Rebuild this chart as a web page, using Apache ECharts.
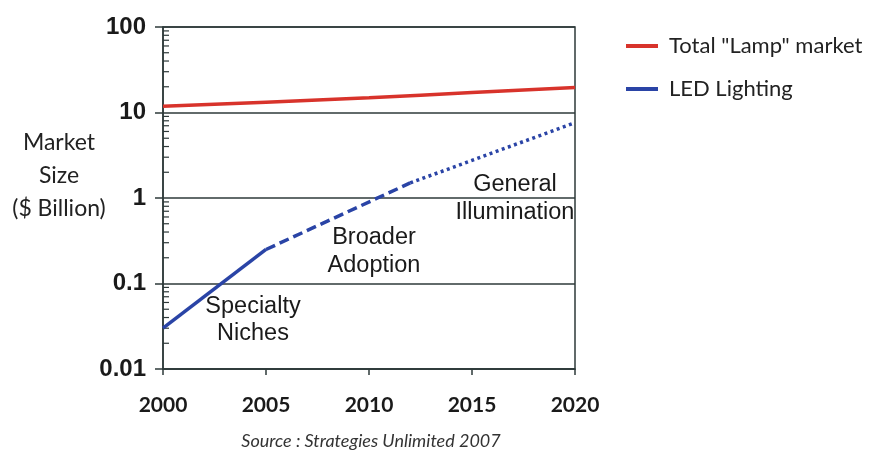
<!DOCTYPE html>
<html>
<head>
<meta charset="utf-8">
<script src="https://cdn.jsdelivr.net/npm/echarts@6/dist/echarts.min.js"></script>
<style>html,body{margin:0;padding:0;background:#fff;}#c{width:876px;height:450px;}</style>
</head>
<body>
<div id="c"></div>
<script>
// ---- data ----
var xTicks = [2000, 2005, 2010, 2015, 2020];
var yTicks = [0.01, 0.1, 1, 10, 100];
var lampYears = [2000, 2005, 2010, 2015, 2020];
var lampValues = [11.8, 13.2, 14.9, 17.1, 19.6];
var ledSolidYears = [2000, 2005];
var ledSolidValues = [0.030, 0.25];
var ledDashedYears = [2005, 2012];
var ledDashedValues = [0.25, 1.5];
var ledDottedYears = [2012, 2020];
var ledDottedValues = [1.5, 7.6];
var minorMultipliers = [2, 3, 4, 5, 6, 7, 8, 9];
var decades = [0.01, 0.1, 1, 10];
var seriesNames = ['Total "Lamp" market', 'LED Lighting'];
var source = 'Source : Strategies Unlimited 2007';

function pairs(xs, ys) { return xs.map(function (x, i) { return [x, ys[i]]; }); }
var minorTicks = [];
decades.forEach(function (d) { minorMultipliers.forEach(function (m) { minorTicks.push([2000, +(d * m).toPrecision(3)]); }); });

var RED = '#d8332b', BLUE = '#2a44a6', AX = '#2e3a3a';
var chart = echarts.init(document.getElementById('c'));
chart.setOption({
  animation: false,
  backgroundColor: '#ffffff',
  grid: { left: 163, top: 27, right: 301, bottom: 81, show: true, borderColor: AX, borderWidth: 1.5 },
  legend: {
    orient: 'vertical', left: 621, top: 30, itemWidth: 32, itemHeight: 4, itemGap: 21, icon: 'rect',
    data: seriesNames,
    textStyle: { fontFamily: 'Lato', fontSize: 22, color: '#222', padding: [0, 0, 0, 6] }
  },
  xAxis: {
    type: 'value', min: 2000, max: 2020, interval: 5,
    axisLine: { lineStyle: { color: AX, width: 1.5 } },
    axisTick: { length: 6, lineStyle: { color: AX, width: 1.5 } },
    splitLine: { show: false },
    axisLabel: { margin: 26, fontFamily: 'Lato', fontWeight: 'bold', fontSize: 21, color: '#1a1a1a',
      formatter: function (v) { return String(v); } }
  },
  yAxis: {
    type: 'log', logBase: 10, min: 0.01, max: 100,
    axisLine: { show: true, lineStyle: { color: AX, width: 1.5 } },
    axisTick: { show: true, length: 8, lineStyle: { color: AX, width: 1.5 } },
    splitLine: { show: true, lineStyle: { color: AX, width: 1.5 } },
    axisLabel: { margin: 17, fontFamily: 'Liberation Sans', fontWeight: 'bold', fontSize: 24, color: '#1a1a1a',
      formatter: function (v) { return String(+v.toPrecision(3)); } }
  },
  graphic: [
    { type: 'text', style: { text: 'Market\nSize\n($ Billion)', x: 59, y: 176, align: 'center', verticalAlign: 'middle', fontFamily: 'Lato', fontSize: 23, lineHeight: 33, fill: '#222' } },
    { type: 'text', style: { text: 'General\nIllumination', x: 515, y: 199, align: 'center', verticalAlign: 'middle', fontFamily: 'Liberation Sans', fontSize: 23.5, lineHeight: 28, fill: '#1a1a1a' } },
    { type: 'text', style: { text: 'Broader\nAdoption', x: 374, y: 252, align: 'center', verticalAlign: 'middle', fontFamily: 'Liberation Sans', fontSize: 23.5, lineHeight: 28, fill: '#1a1a1a' } },
    { type: 'text', style: { text: 'Specialty\nNiches', x: 253, y: 320, align: 'center', verticalAlign: 'middle', fontFamily: 'Liberation Sans', fontSize: 23.5, lineHeight: 27, fill: '#1a1a1a' } },
    { type: 'text', style: { text: source, x: 371, y: 441, align: 'center', verticalAlign: 'middle', fontFamily: 'Lato', fontStyle: 'italic', fontSize: 18, fill: '#333' } }
  ],
  series: [
    { name: seriesNames[0], type: 'line', data: pairs(lampYears, lampValues), showSymbol: false, smooth: true,
      lineStyle: { color: RED, width: 3.5 }, itemStyle: { color: RED } },
    { name: seriesNames[1], type: 'line', data: pairs(ledSolidYears, ledSolidValues), showSymbol: false,
      lineStyle: { color: BLUE, width: 3.5 }, itemStyle: { color: BLUE } },
    { name: 'LED dashed', type: 'line', data: pairs(ledDashedYears, ledDashedValues), showSymbol: false,
      lineStyle: { color: BLUE, width: 3.5, type: [10, 5] }, itemStyle: { color: BLUE } },
    { name: 'LED dotted', type: 'line', data: pairs(ledDottedYears, ledDottedValues), showSymbol: false,
      lineStyle: { color: BLUE, width: 3.5, type: [3, 3.5] }, itemStyle: { color: BLUE } },
    { name: 'minor', type: 'custom', data: minorTicks, silent: true, z: 3,
      renderItem: function (params, api) {
        var p = api.coord([api.value(0), api.value(1)]);
        return { type: 'line', shape: { x1: p[0], y1: p[1], x2: p[0] + 6, y2: p[1] }, style: { stroke: AX, lineWidth: 1.2 } };
      } }
  ]
});
</script>
</body>
</html>
